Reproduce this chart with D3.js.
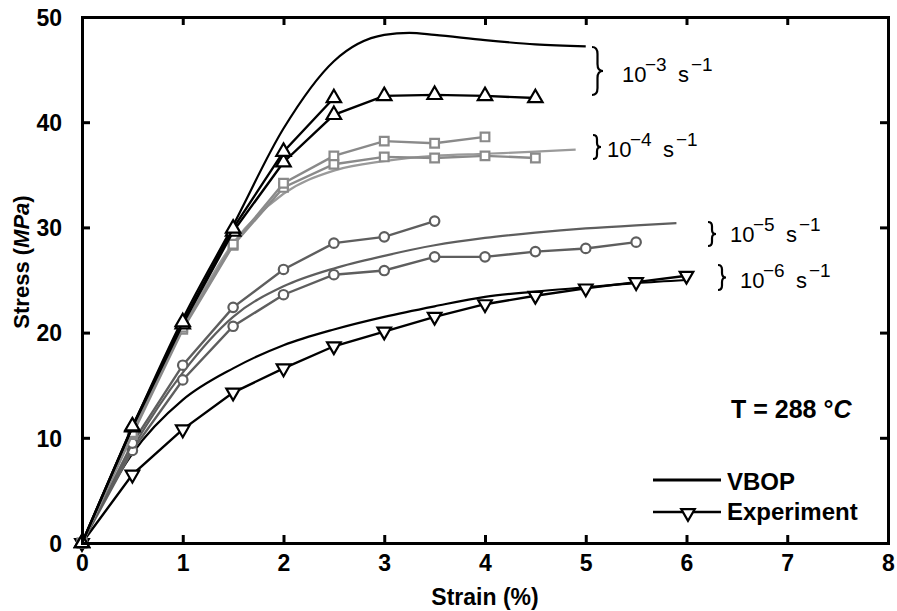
<!DOCTYPE html>
<html>
<head>
<meta charset="utf-8">
<script src="https://cdn.jsdelivr.net/npm/d3@7"></script>
<style>
  body { margin: 0; background: #fff; }
  svg { font-family: "Liberation Sans", Arial, sans-serif; }
</style>
</head>
<body>
<svg id="chart" width="897" height="611"></svg>
<script>
// strain values (%) used by the experiments
var strainExp = [0, 0.5, 1, 1.5, 2, 2.5, 3, 3.5, 4, 4.5, 5, 5.5, 6];

// 10^-3 s^-1
var vbop3X = [0, 0.5, 1, 1.5, 2, 2.5, 3, 3.25, 3.5, 4, 4.5, 5];
var vbop3Y = [0, 11, 21.3, 30.2, 39.4, 45.8, 48.3, 48.5, 48.3, 47.8, 47.4, 47.2];
var exp3aY = [0, 11.1, 21, 29.9, 37.2, 42.3];
var exp3bY = [0, 11, 20.8, 29.6, 36.2, 40.7, 42.5, 42.6, 42.5, 42.3];

// 10^-4 s^-1
var vbop4X = [0, 0.5, 1, 1.5, 2, 2.5, 3, 3.5, 4, 4.5, 4.9];
var vbop4Y = [0, 10.5, 20.3, 28.5, 33.2, 35.4, 36.3, 36.8, 37.0, 37.2, 37.4];
var exp4aY = [0, 10.5, 20.5, 28.4, 34.2, 36.8, 38.2, 38.0, 38.6];
var exp4bY = [0, 10.3, 20.3, 28.3, 33.8, 36.0, 36.7, 36.6, 36.8, 36.6];

// 10^-5 s^-1
var vbop5X = [0, 0.5, 1, 1.5, 2, 2.5, 3, 3.5, 4, 4.5, 5, 5.5, 5.9];
var vbop5Y = [0, 9, 16.2, 21.5, 24.4, 26.1, 27.3, 28.3, 29.0, 29.5, 29.9, 30.2, 30.4];
var exp5aY = [0, 9.5, 16.9, 22.4, 26.0, 28.5, 29.1, 30.6];
var exp5bY = [0, 8.8, 15.5, 20.6, 23.6, 25.5, 25.9, 27.2, 27.2, 27.7, 28.0, 28.6];

// 10^-6 s^-1
var vbop6X = [0, 0.5, 1, 1.5, 2, 2.5, 3, 3.5, 4, 4.5, 5, 5.5, 6];
var vbop6Y = [0, 8.5, 13.6, 16.6, 18.8, 20.3, 21.5, 22.5, 23.4, 23.9, 24.3, 24.7, 25.0];
var exp6Y = [0, 6.5, 10.8, 14.3, 16.6, 18.7, 20.1, 21.5, 22.7, 23.5, 24.2, 24.8, 25.4];

var xTicks = [0, 1, 2, 3, 4, 5, 6, 7, 8];
var yTicks = [0, 10, 20, 30, 40, 50];

var rateLabels = ["\u22123", "\u22124", "\u22125", "\u22126"];

var svg = d3.select('#chart');
var margin = { top: 17, right: 9, bottom: 68, left: 82 };
var width = 897 - margin.left - margin.right;
var height = 611 - margin.top - margin.bottom;

var x = d3.scaleLinear().domain([0, 8]).range([0, width]);
var y = d3.scaleLinear().domain([0, 50]).range([height, 0]);

var g = svg.append('g')
  .attr('transform', 'translate(' + margin.left + ',' + margin.top + ')');

function pairs(xs, ys) {
  return ys.map(function(v, i) { return [xs[i], v]; });
}

var smooth = d3.line()
  .x(function(d) { return x(d[0]); })
  .y(function(d) { return y(d[1]); })
  .curve(d3.curveMonotoneX);
var straight = d3.line()
  .x(function(d) { return x(d[0]); })
  .y(function(d) { return y(d[1]); });

// model curves
function drawVbop(xs, ys, color) {
  g.append('path')
    .datum(pairs(xs, ys))
    .attr('d', smooth)
    .attr('fill', 'none')
    .attr('stroke', color)
    .attr('stroke-width', 2.2);
}

// experiments with markers
function drawExp(ys, color, symbol, size, rot) {
  var data = pairs(strainExp, ys);
  g.append('path')
    .datum(data)
    .attr('d', straight)
    .attr('fill', 'none')
    .attr('stroke', color)
    .attr('stroke-width', 2.4);
  g.selectAll(null)
    .data(data)
    .enter()
    .append('path')
    .attr('d', d3.symbol().type(symbol).size(size))
    .attr('transform', function(d) {
      return 'translate(' + x(d[0]) + ',' + y(d[1]) + ') rotate(' + rot + ')';
    })
    .attr('fill', 'white')
    .attr('stroke', color)
    .attr('stroke-width', 2.2);
}

var gray4 = '#8a8a8a';
var gray5 = '#5e5e5e';

drawVbop(vbop6X, vbop6Y, '#000');
drawExp(exp6Y, '#000', d3.symbolTriangle, 80, 180);

drawVbop(vbop5X, vbop5Y, gray5);
drawExp(exp5bY, gray5, d3.symbolCircle, 70, 0);
drawExp(exp5aY, gray5, d3.symbolCircle, 70, 0);

drawVbop(vbop4X, vbop4Y, '#9a9a9a');
drawExp(exp4bY, gray4, d3.symbolSquare, 75, 0);
drawExp(exp4aY, gray4, d3.symbolSquare, 75, 0);

drawVbop(vbop3X, vbop3Y, '#000');
drawExp(exp3bY, '#000', d3.symbolTriangle, 90, 0);
drawExp(exp3aY, '#000', d3.symbolTriangle, 90, 0);

// axes: ticks inside on all four sides
var axB = g.append('g').attr('transform', 'translate(0,' + height + ')')
  .call(d3.axisBottom(x).tickValues(xTicks).tickSize(-8).tickPadding(13));
var axT = g.append('g')
  .call(d3.axisTop(x).tickValues(xTicks).tickSize(-8).tickFormat(''));
var axL = g.append('g')
  .call(d3.axisLeft(y).tickValues(yTicks).tickSize(-8).tickPadding(20));
var axR = g.append('g').attr('transform', 'translate(' + width + ',0)')
  .call(d3.axisRight(y).tickValues(yTicks).tickSize(-8).tickFormat(''));

[axB, axT, axL, axR].forEach(function(a) {
  a.select('.domain').attr('stroke', '#000').attr('stroke-width', 3);
  a.selectAll('.tick line').attr('stroke', '#000').attr('stroke-width', 3);
  a.selectAll('.tick text')
    .attr('fill', '#000')
    .style('font-size', '23px')
    .style('font-weight', 'bold')
    .style('font-family', '"Liberation Sans", Arial, sans-serif');
});
axL.selectAll('.tick text').attr('dy', '0.36em');
axB.selectAll('.tick text').attr('dy', '0.66em');

// axis titles
svg.append('text')
  .attr('x', margin.left + x(4))
  .attr('y', 605)
  .attr('text-anchor', 'middle')
  .style('font-size', '23px')
  .style('font-weight', 'bold')
  .text('Strain (%)');

var yl = svg.append('text')
  .attr('transform', 'translate(29,262) rotate(-90)')
  .attr('text-anchor', 'middle')
  .style('font-size', '22px')
  .style('font-weight', 'bold');
yl.append('tspan').text('Stress (');
yl.append('tspan').style('font-style', 'italic').text('MPa');
yl.append('tspan').text(')');

// curly brace "}" between y1 and y2, tip pointing right
function brace(x0, y1, y2, w) {
  var h = y2 - y1, m = (y1 + y2) / 2, xm = x0 + w / 2;
  var r = Math.min(h * 0.18, 7);
  return 'M' + x0 + ',' + y1 +
    ' Q' + xm + ',' + y1 + ' ' + xm + ',' + (y1 + r) +
    ' L' + xm + ',' + (m - r) +
    ' Q' + xm + ',' + m + ' ' + (x0 + w) + ',' + m +
    ' Q' + xm + ',' + m + ' ' + xm + ',' + (m + r) +
    ' L' + xm + ',' + (y2 - r) +
    ' Q' + xm + ',' + y2 + ' ' + x0 + ',' + y2;
}

// rate annotations with braces
var notes = [
  { bx: 592, b1: 47, b2: 95, bw: 11, tx: 622, ty: 82 },
  { bx: 593, b1: 135, b2: 159, bw: 8, tx: 607, ty: 157 },
  { bx: 708, b1: 222, b2: 246, bw: 8, tx: 730, ty: 242 },
  { bx: 718, b1: 265, b2: 290, bw: 8, tx: 740, ty: 288 }
];
notes.forEach(function(n, i) {
  svg.append('path')
    .attr('d', brace(n.bx, n.b1, n.b2, n.bw))
    .attr('fill', 'none')
    .attr('stroke', '#000')
    .attr('stroke-width', 2.2);
  var t = svg.append('g').style('font-size', '22px');
  t.append('text').attr('x', n.tx).attr('y', n.ty).text('10');
  t.append('text').attr('x', n.tx + 23).attr('y', n.ty - 11)
    .style('font-size', '19px').text(rateLabels[i]);
  t.append('text').attr('x', n.tx + 56).attr('y', n.ty).text('s');
  t.append('text').attr('x', n.tx + 69).attr('y', n.ty - 11)
    .style('font-size', '19px').text('\u22121');
});

// temperature
var tt = svg.append('text')
  .attr('x', 731).attr('y', 418)
  .style('font-size', '25px')
  .style('font-weight', 'bold');
tt.append('tspan').text('T = 288 \u00b0');
tt.append('tspan').style('font-style', 'italic').text('C');

// legend
var lg = svg.append('g');
lg.append('line')
  .attr('x1', 653).attr('x2', 721).attr('y1', 480).attr('y2', 480)
  .attr('stroke', '#000').attr('stroke-width', 3);
lg.append('text').attr('x', 727).attr('y', 490)
  .style('font-size', '24px').style('font-weight', 'bold').text('VBOP');
lg.append('line')
  .attr('x1', 653).attr('x2', 721).attr('y1', 512).attr('y2', 512)
  .attr('stroke', '#000').attr('stroke-width', 2.4);
lg.append('path')
  .attr('d', d3.symbol().type(d3.symbolTriangle).size(80))
  .attr('transform', 'translate(688,513) rotate(180)')
  .attr('fill', 'white').attr('stroke', '#000').attr('stroke-width', 2.2);
lg.append('text').attr('x', 727).attr('y', 520)
  .style('font-size', '24px').style('font-weight', 'bold').text('Experiment');
</script>
</body>
</html>
